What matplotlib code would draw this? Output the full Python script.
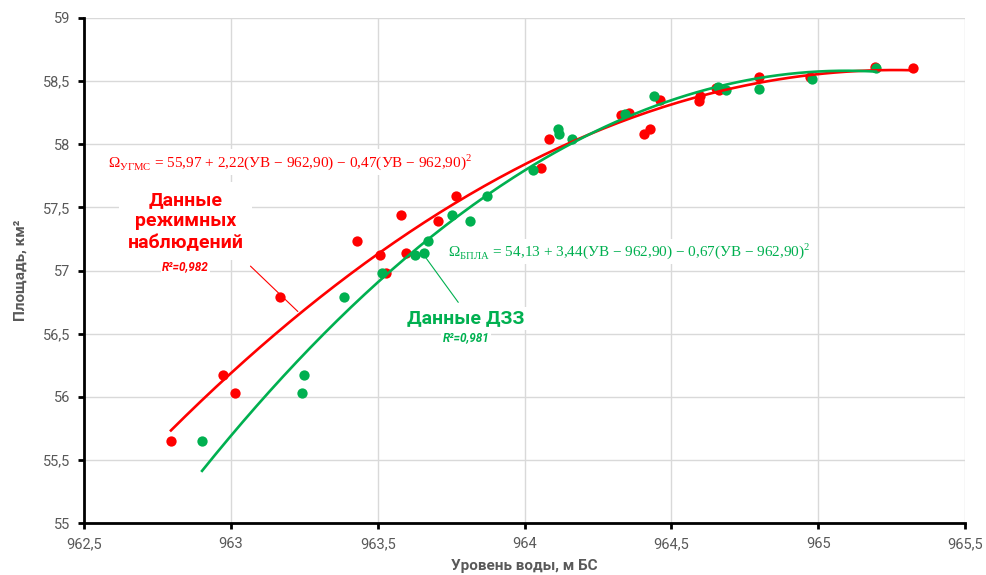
import numpy as np
import matplotlib.pyplot as plt
from matplotlib.ticker import FuncFormatter, MultipleLocator

# Данные режимных наблюдений (УГМС)
ugms_level = [962.796, 962.973, 963.014, 963.167, 963.430, 963.508, 963.528, 963.580,
              963.596, 963.705, 963.767, 964.056, 964.083, 964.328, 964.356, 964.407,
              964.427, 964.461, 964.594, 964.597, 964.652, 964.662, 964.798, 964.972,
              965.193, 965.323]
ugms_area = [55.65, 56.17, 56.03, 56.79, 57.23, 57.12, 56.98, 57.44,
             57.14, 57.39, 57.59, 57.81, 58.04, 58.23, 58.25, 58.08,
             58.12, 58.35, 58.34, 58.38, 58.445, 58.43, 58.53, 58.53,
             58.61, 58.60]

# Данные ДЗЗ (БПЛА)
dzz_level = [962.902, 963.242, 963.249, 963.385, 963.514, 963.627, 963.658, 963.671,
             963.753, 963.814, 963.872, 964.029, 964.114, 964.117, 964.161, 964.342,
             964.440, 964.660, 964.686, 964.800, 964.979, 965.197]
dzz_area = [55.65, 56.03, 56.17, 56.79, 56.98, 57.12, 57.14, 57.23,
            57.44, 57.39, 57.59, 57.80, 58.12, 58.08, 58.04, 58.24,
            58.38, 58.45, 58.43, 58.44, 58.52, 58.60]

red = '#FF0000'
green = '#00B050'
gray = '#595959'

plt.rcParams['font.family'] = ['Roboto', 'DejaVu Sans']
plt.rcParams['mathtext.fontset'] = 'custom'
plt.rcParams['mathtext.rm'] = 'Liberation Serif'

fig = plt.figure(figsize=(9.86, 5.75), dpi=100)
ax = fig.add_axes([0.0852, 0.0904, 0.8935, 0.8783])

ax.scatter(ugms_level, ugms_area, s=55, color=red, zorder=3, linewidths=0)
ax.scatter(dzz_level, dzz_area, s=55, color=green, zorder=3, linewidths=0)

# полиномиальные линии тренда 2-й степени
for xs, ys, c in [(ugms_level, ugms_area, red), (dzz_level, dzz_area, green)]:
    p = np.polyfit(np.array(xs) - 962.9, ys, 2)
    xx = np.linspace(min(xs), max(xs), 200)
    ax.plot(xx, np.polyval(p, xx - 962.9), color=c, lw=1.9, zorder=4)

ax.set_xlim(962.5, 965.5)
ax.set_ylim(55, 59)
ax.xaxis.set_major_locator(MultipleLocator(0.5))
ax.yaxis.set_major_locator(MultipleLocator(0.5))
fmt = FuncFormatter(lambda v, pos: f"{v:g}".replace('.', ','))
ax.xaxis.set_major_formatter(fmt)
ax.yaxis.set_major_formatter(fmt)
ax.grid(True, color='#d9d9d9', lw=1)
ax.set_axisbelow(True)
for s in ['top', 'right']:
    ax.spines[s].set_visible(False)
for s in ['left', 'bottom']:
    ax.spines[s].set_linewidth(2)
    ax.spines[s].set_color('black')
ax.tick_params(axis='both', length=4, width=2, color='black', labelcolor=gray,
               labelsize=10.5, pad=6)

ax.set_xlabel('Уровень воды, м БС', fontsize=11, fontweight='bold', color=gray, labelpad=6)
ax.set_ylabel('Площадь, км²', fontsize=11, fontweight='bold', color=gray, labelpad=11)

# выноски
ax.annotate('', xy=(963.235, 56.66), xytext=(963.06, 57.05),
            arrowprops=dict(arrowstyle='-', color=red, lw=0.8), zorder=2)
ax.annotate('', xy=(963.655, 57.13), xytext=(963.78, 56.73),
            arrowprops=dict(arrowstyle='-', color=green, lw=0.8), zorder=2)

ax.text(962.845, 57.39, 'Данные\nрежимных\nнаблюдений', color=red, fontsize=14,
        fontweight='bold', ha='center', va='center', linespacing=1.25, zorder=5,
        bbox=dict(facecolor='white', edgecolor='none', pad=6))
ax.text(962.845, 57.03, 'R²=0,982', color=red, fontsize=8.5, fontweight='bold',
        style='italic', ha='center', va='center', zorder=5,
        bbox=dict(facecolor='white', edgecolor='none', pad=1))

ax.text(963.8, 56.62, 'Данные ДЗЗ', color=green, fontsize=14, fontweight='bold',
        ha='center', va='center', zorder=5,
        bbox=dict(facecolor='white', edgecolor='none', pad=2))
ax.text(963.8, 56.47, 'R²=0,981', color=green, fontsize=8.5, fontweight='bold',
        style='italic', ha='center', va='center', zorder=5,
        bbox=dict(facecolor='white', edgecolor='none', pad=1))

ax.text(962.582, 57.86, r'$\Omega_{\mathrm{УГМС}}$ = 55,97 + 2,22(УВ − 962,90) − 0,47(УВ − 962,90)$^{2}$',
        color=red, fontsize=11, family='Liberation Serif', ha='left', va='center', zorder=5,
        bbox=dict(facecolor='white', edgecolor='none', pad=2))
ax.text(963.739, 57.15, r'$\Omega_{\mathrm{БПЛА}}$ = 54,13 + 3,44(УВ − 962,90) − 0,67(УВ − 962,90)$^{2}$',
        color=green, fontsize=11, family='Liberation Serif', ha='left', va='center', zorder=5,
        bbox=dict(facecolor='white', edgecolor='none', pad=2))

plt.savefig('out.png', dpi=100)
